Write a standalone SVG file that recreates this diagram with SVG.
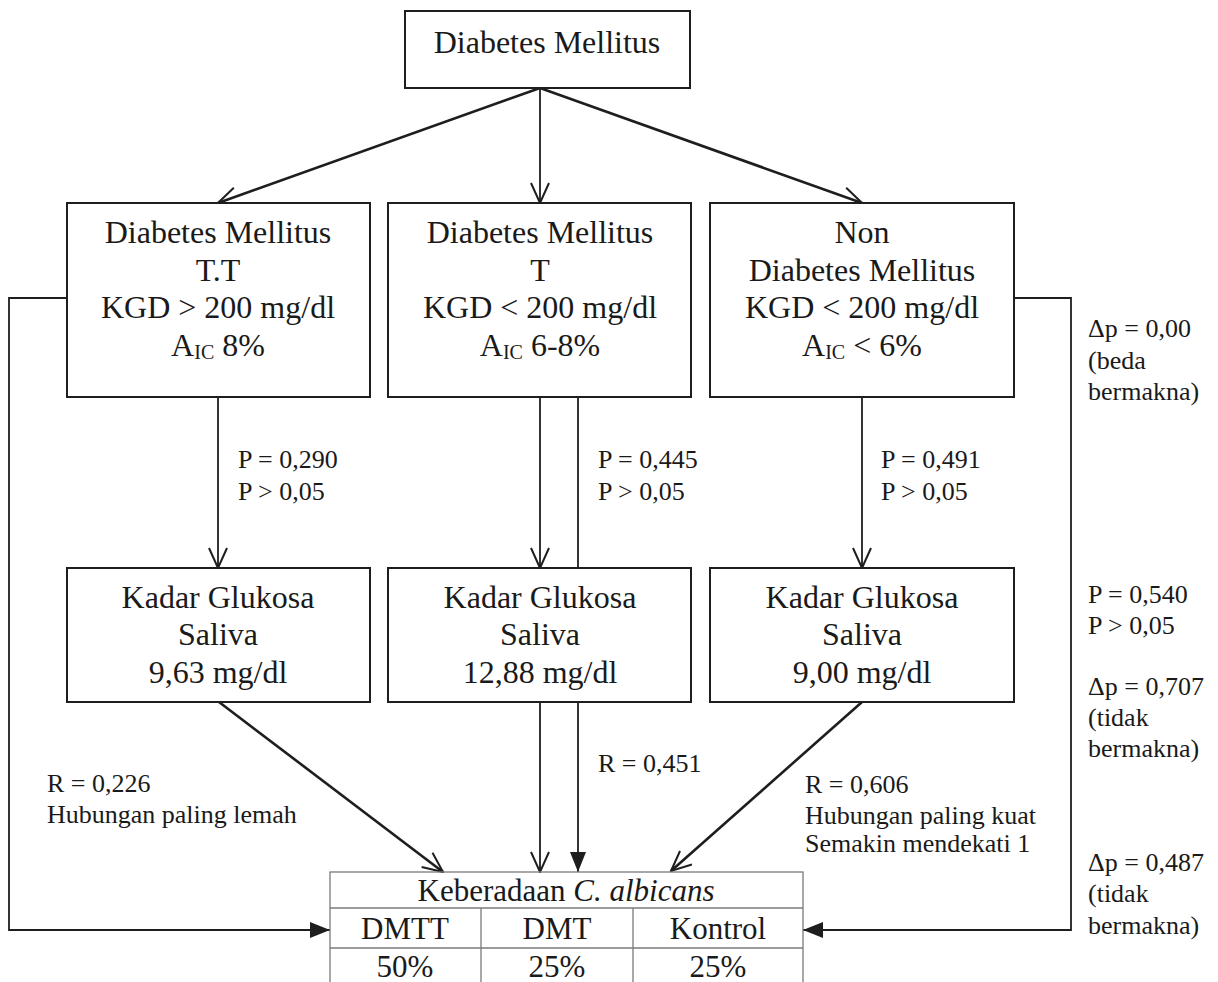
<svg xmlns="http://www.w3.org/2000/svg" width="1218" height="982" viewBox="0 0 1218 982">
<defs>
<style>
.box{fill:#fff;stroke:#1e1e1e;stroke-width:2}
.t{font-family:"Liberation Serif","Times New Roman",serif;font-size:32px;fill:#1a1a1a;text-anchor:middle}
.sub{font-size:20px}
.l{font-family:"Liberation Serif","Times New Roman",serif;font-size:26px;fill:#1a1a1a}
.tt{font-family:"Liberation Serif","Times New Roman",serif;font-size:31px;fill:#1a1a1a;text-anchor:middle}
.c{fill:none;stroke:#1e1e1e;stroke-width:1.8}
.cd{fill:none;stroke:#1e1e1e;stroke-width:2.6}
.grid{fill:none;stroke:#7a7a7a;stroke-width:1.3}
</style>
<marker id="open" viewBox="0 0 22 22" refX="21" refY="11" markerWidth="22" markerHeight="22" markerUnits="userSpaceOnUse" orient="auto">
<path d="M1,2 L21,11 L1,20" fill="none" stroke="#1e1e1e" stroke-width="2"/>
</marker>
<marker id="fill" viewBox="0 0 22 22" refX="21" refY="11" markerWidth="22" markerHeight="22" markerUnits="userSpaceOnUse" orient="auto">
<path d="M1,3 L21,11 L1,19 Z" fill="#1e1e1e"/>
</marker>
</defs>
<rect width="1218" height="982" fill="#fff"/>

<g id="connectors">
<line class="cd" x1="540" y1="88" x2="218" y2="203" marker-end="url(#open)"/>
<line class="c" x1="540" y1="88" x2="540" y2="203" marker-end="url(#open)"/>
<line class="cd" x1="540" y1="88" x2="862" y2="203" marker-end="url(#open)"/>
<line class="c" x1="218" y1="397" x2="218" y2="568" marker-end="url(#open)"/>
<line class="c" x1="540" y1="397" x2="540" y2="568" marker-end="url(#open)"/>
<line class="c" x1="578" y1="397" x2="578" y2="568"/>
<line class="c" x1="862" y1="397" x2="862" y2="568" marker-end="url(#open)"/>
<line class="cd" x1="219" y1="702" x2="443" y2="872" marker-end="url(#open)"/>
<line class="c" x1="540" y1="702" x2="540" y2="872" marker-end="url(#open)"/>
<line class="c" x1="578" y1="702" x2="578" y2="872" marker-end="url(#fill)"/>
<line class="cd" x1="862" y1="702" x2="671" y2="871" marker-end="url(#open)"/>
<polyline class="c" points="67,298 9,298 9,930 330,930" marker-end="url(#fill)"/>
<polyline class="c" points="1014,298 1071,298 1071,930 803,930" marker-end="url(#fill)"/>
</g>

<g id="dm">
<rect class="box" x="405" y="11" width="285" height="77"/>
<text class="t" x="547" y="53">Diabetes Mellitus</text>
</g>

<g id="dmtt">
<rect class="box" x="67" y="203" width="303" height="194"/>
<text class="t" x="218" y="243">Diabetes Mellitus</text>
<text class="t" x="218" y="281">T.T</text>
<text class="t" x="218" y="318">KGD &gt; 200 mg/dl</text>
<text class="t" x="218" y="356">A<tspan class="sub" dy="3">IC</tspan><tspan dy="-3"> 8%</tspan></text>
</g>

<g id="dmt">
<rect class="box" x="388" y="203" width="303" height="194"/>
<text class="t" x="540" y="243">Diabetes Mellitus</text>
<text class="t" x="540" y="281">T</text>
<text class="t" x="540" y="318">KGD &lt; 200 mg/dl</text>
<text class="t" x="540" y="356">A<tspan class="sub" dy="3">IC</tspan><tspan dy="-3"> 6-8%</tspan></text>
</g>

<g id="nondm">
<rect class="box" x="710" y="203" width="304" height="194"/>
<text class="t" x="862" y="243">Non</text>
<text class="t" x="862" y="281">Diabetes Mellitus</text>
<text class="t" x="862" y="318">KGD &lt; 200 mg/dl</text>
<text class="t" x="862" y="356">A<tspan class="sub" dy="3">IC</tspan><tspan dy="-3"> &lt; 6%</tspan></text>
</g>

<g id="kgs1">
<rect class="box" x="67" y="568" width="303" height="134"/>
<text class="t" x="218" y="608">Kadar Glukosa</text>
<text class="t" x="218" y="645">Saliva</text>
<text class="t" x="218" y="683">9,63 mg/dl</text>
</g>

<g id="kgs2">
<rect class="box" x="388" y="568" width="303" height="134"/>
<text class="t" x="540" y="608">Kadar Glukosa</text>
<text class="t" x="540" y="645">Saliva</text>
<text class="t" x="540" y="683">12,88 mg/dl</text>
</g>

<g id="kgs3">
<rect class="box" x="710" y="568" width="304" height="134"/>
<text class="t" x="862" y="608">Kadar Glukosa</text>
<text class="t" x="862" y="645">Saliva</text>
<text class="t" x="862" y="683">9,00 mg/dl</text>
</g>

<g id="table">
<rect class="grid" x="330" y="872" width="473" height="120"/>
<line class="grid" x1="330" y1="908" x2="803" y2="908"/>
<line class="grid" x1="330" y1="948" x2="803" y2="948"/>
<line class="grid" x1="481" y1="908" x2="481" y2="992"/>
<line class="grid" x1="633" y1="908" x2="633" y2="992"/>
<text class="tt" x="566" y="901">Keberadaan <tspan font-style="italic">C. albicans</tspan></text>
<text class="tt" x="405" y="939">DMTT</text>
<text class="tt" x="557" y="939">DMT</text>
<text class="tt" x="718" y="939">Kontrol</text>
<text class="tt" x="405" y="977">50%</text>
<text class="tt" x="557" y="977">25%</text>
<text class="tt" x="718" y="977">25%</text>
</g>

<g id="labels">
<text class="l" x="238" y="468">P = 0,290</text>
<text class="l" x="238" y="500">P &gt; 0,05</text>
<text class="l" x="598" y="468">P = 0,445</text>
<text class="l" x="598" y="500">P &gt; 0,05</text>
<text class="l" x="881" y="468">P = 0,491</text>
<text class="l" x="881" y="500">P &gt; 0,05</text>
<text class="l" x="47" y="792">R = 0,226</text>
<text class="l" x="47" y="823">Hubungan paling lemah</text>
<text class="l" x="598" y="772">R = 0,451</text>
<text class="l" x="805" y="793">R = 0,606</text>
<text class="l" x="805" y="824">Hubungan paling kuat</text>
<text class="l" x="805" y="852">Semakin mendekati 1</text>
<text class="l" x="1088" y="337">Δp = 0,00</text>
<text class="l" x="1088" y="369">(beda</text>
<text class="l" x="1088" y="400">bermakna)</text>
<text class="l" x="1088" y="603">P = 0,540</text>
<text class="l" x="1088" y="634">P &gt; 0,05</text>
<text class="l" x="1088" y="695">Δp = 0,707</text>
<text class="l" x="1088" y="726">(tidak</text>
<text class="l" x="1088" y="757">bermakna)</text>
<text class="l" x="1088" y="871">Δp = 0,487</text>
<text class="l" x="1088" y="902">(tidak</text>
<text class="l" x="1088" y="934">bermakna)</text>
</g>
</svg>
